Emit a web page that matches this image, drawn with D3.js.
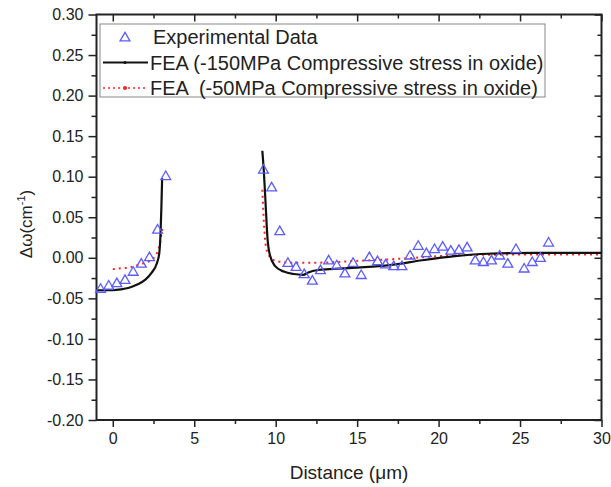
<!DOCTYPE html>
<html>
<head>
<meta charset="utf-8">
<script src="https://cdn.jsdelivr.net/npm/d3@7"></script>
<style>
  body { margin: 0; background: #fff; }
  svg { display: block; font-family: Arial, "Liberation Sans", sans-serif; }
  .tick text { fill: #222; }
</style>
</head>
<body>
<div id="main"></div>
<script>
// experimental points (distance in um, shift in cm^-1)
const expX = [-0.75, -0.25, 0.25, 0.75, 1.25, 1.75, 2.25, 2.75, 3.25,
  9.25, 9.75, 10.25, 10.75, 11.25, 11.75, 12.25, 12.75, 13.25, 13.75,
  14.25, 14.75, 15.25, 15.75, 16.25, 16.75, 17.25, 17.75, 18.25, 18.75,
  19.25, 19.75, 20.25, 20.75, 21.25, 21.75, 22.25, 22.75, 23.25, 23.75,
  24.25, 24.75, 25.25, 25.75, 26.25, 26.75];
const expY = [-0.039, -0.035, -0.032, -0.028, -0.018, -0.008, 0.000, 0.034, 0.100,
  0.108, 0.086, 0.032, -0.007, -0.012, -0.021, -0.029, -0.016, -0.004, -0.010,
  -0.020, -0.007, -0.022, 0.000, -0.005, -0.009, -0.011, -0.011, 0.002, 0.014,
  0.005, 0.010, 0.013, 0.008, 0.009, 0.012, -0.004, -0.006, -0.004, 0.002,
  -0.008, 0.010, -0.014, -0.006, -0.001, 0.018];

// FEA -150MPa, two pieces
const fea150LeftX = [-1, 0, 0.5, 1.0, 1.5, 2.0, 2.4, 2.7, 2.85, 2.93, 2.98, 3.03];
const fea150LeftY = [-0.040, -0.040, -0.039, -0.037, -0.033, -0.027, -0.018, -0.007, 0.005, 0.030, 0.060, 0.098];
const fea150RightX = [9.18, 9.28, 9.39, 9.49, 9.65, 9.95, 10.5, 11.1, 11.7, 12.0, 12.6, 13.3, 15, 17, 19, 21, 23, 26, 30];
const fea150RightY = [0.132, 0.104, 0.063, 0.026, 0.003, -0.010, -0.017, -0.020, -0.021, -0.018, -0.015, -0.014, -0.012, -0.009, -0.003, 0.002, 0.005, 0.006, 0.006];

// FEA -50MPa, two pieces
const fea50LeftX = [0, 0.5, 1.0, 1.5, 2.0, 2.4, 2.7, 2.9, 3.05];
const fea50LeftY = [-0.014, -0.013, -0.012, -0.009, -0.006, -0.002, 0.005, 0.018, 0.039];
const fea50RightX = [9.18, 9.28, 9.4, 9.65, 10.05, 10.9, 12.5, 14.8, 17.8, 21, 25, 30];
const fea50RightY = [0.084, 0.042, 0.014, 0.001, -0.004, -0.006, -0.006, -0.004, -0.001, 0.003, 0.004, 0.004];

const xTicks = [0, 5, 10, 15, 20, 25, 30];
const xMinor = [2.5, 7.5, 12.5, 17.5, 22.5, 27.5];
const yTicks = [-0.20, -0.15, -0.10, -0.05, 0.00, 0.05, 0.10, 0.15, 0.20, 0.25, 0.30];
const yMinor = [-0.175, -0.125, -0.075, -0.025, 0.025, 0.075, 0.125, 0.175, 0.225, 0.275];

const legendLabels = ["Experimental Data",
  "FEA (-150MPa Compressive stress in oxide)",
  "FEA  (-50MPa Compressive stress in oxide)"];

const width = 611, height = 487;
const plotL = 96.5, plotR = 601.5, plotT = 14.5, plotB = 420;

const svg = d3.select('#main').append('svg')
  .attr('width', width).attr('height', height);

const x = d3.scaleLinear().domain([-1, 30]).range([plotL, plotR]);
const y = d3.scaleLinear().domain([-0.2, 0.3]).range([plotB, plotT]);

const zip = (xs, ys) => xs.map((v, i) => [v, ys[i]]);
const f2 = d3.format('.2f');

// axes
const axisCol = '#222';
const bottomAx = svg.append('g').attr('transform', `translate(0,${plotB})`)
  .call(d3.axisBottom(x).tickValues(xTicks).tickSize(7).tickSizeOuter(0).tickPadding(6).tickFormat(d3.format('d')));
const bottomMin = svg.append('g').attr('transform', `translate(0,${plotB})`)
  .call(d3.axisBottom(x).tickValues(xMinor).tickSize(4).tickSizeOuter(0).tickFormat(''));
const leftAx = svg.append('g').attr('transform', `translate(${plotL},0)`)
  .call(d3.axisLeft(y).tickValues(yTicks).tickSize(8).tickSizeOuter(0).tickPadding(5)
    .tickFormat(d => f2(d).replace('\u2212', '-')));
const leftMin = svg.append('g').attr('transform', `translate(${plotL},0)`)
  .call(d3.axisLeft(y).tickValues(yMinor).tickSize(5).tickSizeOuter(0).tickFormat(''));
const topAx = svg.append('g').attr('transform', `translate(0,${plotT})`)
  .call(d3.axisTop(x).tickValues(xTicks).tickSize(-7).tickSizeOuter(0).tickFormat(''));
const topMin = svg.append('g').attr('transform', `translate(0,${plotT})`)
  .call(d3.axisTop(x).tickValues(xMinor).tickSize(-4).tickSizeOuter(0).tickFormat(''));
const rightAx = svg.append('g').attr('transform', `translate(${plotR},0)`)
  .call(d3.axisRight(y).tickValues(yTicks).tickSize(-7).tickSizeOuter(0).tickFormat(''));
const rightMin = svg.append('g').attr('transform', `translate(${plotR},0)`)
  .call(d3.axisRight(y).tickValues(yMinor).tickSize(-4).tickSizeOuter(0).tickFormat(''));

[bottomAx, bottomMin, leftAx, leftMin, topAx, topMin, rightAx, rightMin].forEach(g => {
  g.select('.domain').remove();
  g.selectAll('line').attr('stroke', axisCol).attr('stroke-width', 1.5);
  g.selectAll('text').style('font-size', '16px').attr('fill', axisCol);
});

svg.append('rect')
  .attr('x', plotL).attr('y', plotT)
  .attr('width', plotR - plotL).attr('height', plotB - plotT)
  .attr('fill', 'none').attr('stroke', axisCol).attr('stroke-width', 2);

// axis titles
svg.append('text')
  .attr('x', (plotL + plotR) / 2).attr('y', 479)
  .attr('text-anchor', 'middle')
  .style('font-size', '19px').attr('fill', axisCol)
  .text('Distance (μm)');

const yTitle = svg.append('text')
  .attr('transform', 'translate(32,224) rotate(-90)')
  .attr('text-anchor', 'middle')
  .style('font-size', '17px').attr('fill', axisCol);
yTitle.append('tspan').text('Δω(cm');
yTitle.append('tspan').attr('dy', -7).style('font-size', '11px').text('-1');
yTitle.append('tspan').attr('dy', 7).text(')');

// lines
const line = d3.line().x(d => x(d[0])).y(d => y(d[1])).curve(d3.curveMonotoneX);

[zip(fea50LeftX, fea50LeftY), zip(fea50RightX, fea50RightY)].forEach(pts => {
  svg.append('path').datum(pts)
    .attr('d', line)
    .attr('fill', 'none')
    .attr('stroke', '#ff2020')
    .attr('stroke-width', 2)
    .attr('stroke-dasharray', '2,4');
});

[zip(fea150LeftX, fea150LeftY), zip(fea150RightX, fea150RightY)].forEach(pts => {
  svg.append('path').datum(pts)
    .attr('d', line)
    .attr('fill', 'none')
    .attr('stroke', '#111')
    .attr('stroke-width', 2.2);
});

// triangles
const tri = d3.symbol().type(d3.symbolTriangle).size(42);
svg.append('g').selectAll('path')
  .data(zip(expX, expY))
  .enter()
  .append('path')
  .attr('d', tri)
  .attr('transform', d => `translate(${x(d[0])},${y(d[1])})`)
  .attr('fill', 'none')
  .attr('stroke', '#5b5bff')
  .attr('stroke-width', 1.3);

// legend
const legend = svg.append('g');
legend.append('rect')
  .attr('x', 100).attr('y', 24).attr('width', 445).attr('height', 73)
  .attr('fill', '#fff').attr('stroke', '#888').attr('stroke-width', 1);

const rowY = [37, 62.5, 88];
legend.append('path')
  .attr('d', tri)
  .attr('transform', `translate(125,${rowY[0] + 1})`)
  .attr('fill', 'none').attr('stroke', '#5b5bff').attr('stroke-width', 1.3);
legend.append('line')
  .attr('x1', 103).attr('x2', 148).attr('y1', rowY[1]).attr('y2', rowY[1])
  .attr('stroke', '#111').attr('stroke-width', 2);
legend.append('circle').attr('cx', 125).attr('cy', rowY[1]).attr('r', 1.5).attr('fill', '#111');
legend.append('line')
  .attr('x1', 103).attr('x2', 148).attr('y1', rowY[2]).attr('y2', rowY[2])
  .attr('stroke', '#ff2020').attr('stroke-width', 1.5).attr('stroke-dasharray', '2,3');
legend.append('circle').attr('cx', 125).attr('cy', rowY[2]).attr('r', 2).attr('fill', '#ff2020');

legend.selectAll('text.lab')
  .data(legendLabels)
  .enter()
  .append('text')
  .attr('class', 'lab')
  .attr('x', (d, i) => i === 0 ? 153 : 150)
  .attr('y', (d, i) => rowY[i] + 7)
  .style('font-size', '20px')
  .style('white-space', 'pre')
  .attr('fill', '#222')
  .text(d => d);
</script>
</body>
</html>
